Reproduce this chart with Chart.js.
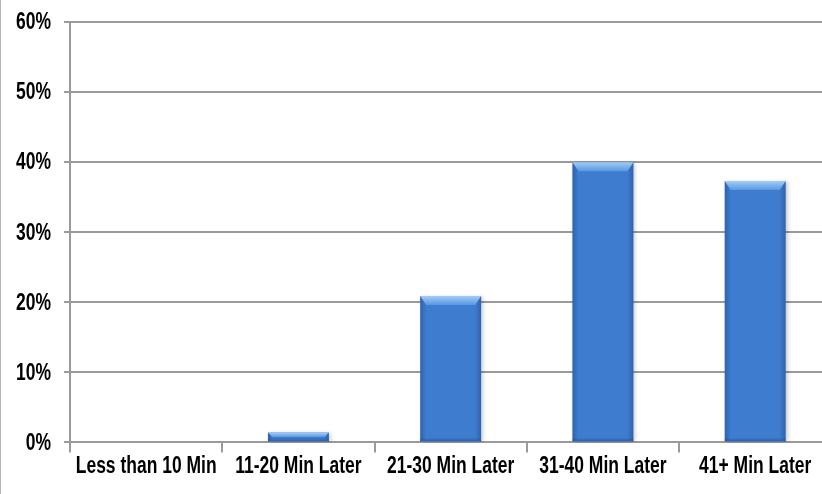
<!DOCTYPE html>
<html>
<head>
<meta charset="utf-8">
<script src="https://cdn.jsdelivr.net/npm/chart.js@4/dist/chart.umd.min.js"></script>
<style>
  html, body { margin: 0; padding: 0; background: #fff; overflow: hidden; }
  #wrap { position: relative; width: 832px; height: 494px; }
  #frame { position: absolute; left: 0; top: 0; width: 1px; height: 494px; background: #b4b4b4; }
</style>
</head>
<body>
<div id="wrap"><canvas id="c"></canvas><div id="frame"></div></div>
<script>
// Arrival delay buckets and the share of responses in each
const categories = ['Less than 10 Min', '11-20 Min Later', '21-30 Min Later', '31-40 Min Later', '41+ Min Later'];
const shares = [0, 1.4, 20.9, 40, 37.3];
const yMin = 0;
const yMax = 60;
const yStep = 10;

const FONT_FAMILY = '"Liberation Sans", Arial, sans-serif';
const FONT_SIZE = 23;
const FONT_WEIGHT = 'bold';
const NARROW = 0.76;      // horizontal squeeze for a condensed face
const Y_LABEL_GAP = 13;   // space between y labels and their tick marks

// Tick labels are laid out by the library, then painted here in a condensed form
const narrowLabels = {
  id: 'narrowLabels',
  afterDraw(chart) {
    const ctx = chart.ctx;
    ctx.save();
    ctx.fillStyle = '#000';
    ctx.font = FONT_WEIGHT + ' ' + FONT_SIZE + 'px ' + FONT_FAMILY;
    const xs = chart.scales.x;
    const xTop = xs.top + xs.options.grid.tickLength + xs.options.ticks.padding;
    ctx.textAlign = 'center';
    ctx.textBaseline = 'top';
    xs.ticks.forEach((t, i) => {
      ctx.save();
      ctx.translate(xs.getPixelForTick(i), xTop);
      ctx.scale(NARROW, 1);
      ctx.fillText(t.label, 0, 0);
      ctx.restore();
    });
    const ys = chart.scales.y;
    const yRight = ys.right - ys.options.grid.tickLength - Y_LABEL_GAP;
    ctx.textAlign = 'right';
    ctx.textBaseline = 'middle';
    ys.ticks.forEach((t, i) => {
      ctx.save();
      ctx.translate(yRight, ys.getPixelForTick(i));
      ctx.scale(NARROW, 1);
      ctx.fillText(t.label, 0, 1);
      ctx.restore();
    });
    ctx.restore();
  }
};

// Office-style bevel drawn over each bar after the library paints it
const bevelPlugin = {
  id: 'bevel',
  beforeDatasetDraw(chart) {
    const ctx = chart.ctx;
    ctx.save();
    ctx.shadowColor = 'rgba(0,0,0,0.2)';
    ctx.shadowBlur = 4;
    ctx.shadowOffsetX = 2;
    ctx.shadowOffsetY = 1;
  },
  afterDatasetDraw(chart, args) {
    const ctx = chart.ctx;
    ctx.restore();
    args.meta.data.forEach(bar => {
      const p = bar.getProps(['x', 'y', 'base', 'width'], true);
      const l = p.x - p.width / 2, r = p.x + p.width / 2;
      const top = p.y, base = p.base;
      const h = base - top;
      if (h <= 0.5) return;
      const s = Math.min(6, h / 2);
      const b = Math.min(9, h / 2);
      ctx.save();
      // left side
      let g = ctx.createLinearGradient(l, 0, l + s, 0);
      g.addColorStop(0, 'rgba(20,50,110,0.35)');
      g.addColorStop(1, 'rgba(20,50,110,0.0)');
      ctx.fillStyle = g;
      ctx.beginPath();
      ctx.moveTo(l, top); ctx.lineTo(l + s, top + b); ctx.lineTo(l + s, base - 3); ctx.lineTo(l, base);
      ctx.closePath(); ctx.fill();
      // right side
      g = ctx.createLinearGradient(r, 0, r - s, 0);
      g.addColorStop(0, 'rgba(20,50,110,0.35)');
      g.addColorStop(1, 'rgba(20,50,110,0.0)');
      ctx.fillStyle = g;
      ctx.beginPath();
      ctx.moveTo(r, top); ctx.lineTo(r - s, top + b); ctx.lineTo(r - s, base - 3); ctx.lineTo(r, base);
      ctx.closePath(); ctx.fill();
      // bottom
      g = ctx.createLinearGradient(0, base, 0, base - 4);
      g.addColorStop(0, 'rgba(20,45,100,0.35)');
      g.addColorStop(1, 'rgba(20,45,100,0.0)');
      ctx.fillStyle = g;
      ctx.fillRect(l, base - 4, r - l, 4);
      // top bevel
      g = ctx.createLinearGradient(0, top, 0, top + b);
      g.addColorStop(0, '#a2cdf8');
      g.addColorStop(1, '#5a97e0');
      ctx.fillStyle = g;
      ctx.beginPath();
      ctx.moveTo(l, top); ctx.lineTo(r, top); ctx.lineTo(r - s, top + b); ctx.lineTo(l + s, top + b);
      ctx.closePath(); ctx.fill();
      ctx.restore();
    });
  }
};

new Chart(document.getElementById('c'), {
  type: 'bar',
  data: {
    labels: categories,
    datasets: [{
      data: shares,
      backgroundColor: '#3d7cce',
      borderWidth: 0,
      categoryPercentage: 1,
      barPercentage: 0.4
    }]
  },
  plugins: [bevelPlugin, narrowLabels],
  options: {
    responsive: true,
    maintainAspectRatio: false,
    animation: false,
    layout: { padding: { left: 4, top: 22, right: 0, bottom: 8 } },
    plugins: { legend: { display: false }, tooltip: { enabled: false } },
    scales: {
      x: {
        grid: { drawOnChartArea: false, drawTicks: true, tickLength: 10, color: '#9a9a9a', lineWidth: 2, offset: true },
        border: { display: true, color: '#9a9a9a', width: 2 },
        ticks: { color: 'rgba(0,0,0,0)', font: { family: FONT_FAMILY, size: FONT_SIZE, weight: FONT_WEIGHT }, padding: 3, maxRotation: 0, autoSkip: false }
      },
      y: {
        min: yMin,
        max: yMax,
        grid: { color: '#9a9a9a', lineWidth: 2, tickLength: 6 },
        border: { display: true, color: '#9a9a9a', width: 2 },
        ticks: {
          stepSize: yStep,
          color: 'rgba(0,0,0,0)',
          padding: 7,
          font: { family: FONT_FAMILY, size: FONT_SIZE, weight: FONT_WEIGHT, lineHeight: 0.8 },
          callback: v => v + '%'
        }
      }
    }
  }
});
</script>
</body>
</html>
